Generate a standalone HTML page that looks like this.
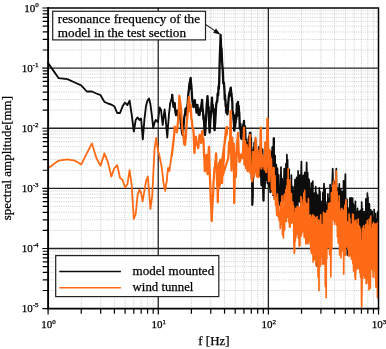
<!DOCTYPE html>
<html><head><meta charset="utf-8"><title>spectrum</title>
<style>html,body{margin:0;padding:0;background:#fff;overflow:hidden}body{width:386px;height:349px;font-family:"Liberation Serif",serif}</style></head>
<body>
<svg width="386" height="349" viewBox="0 0 386 349" style="display:block;will-change:transform;font-family:'Liberation Serif',serif" shape-rendering="geometricPrecision">
<filter id="soft" x="0" y="0" width="386" height="349" filterUnits="userSpaceOnUse"><feGaussianBlur stdDeviation="0.4"/></filter>
<g filter="url(#soft)">
<rect width="386" height="349" fill="#fff"/>
<path d="M81.25 8.00V308.60M100.65 8.00V308.60M114.41 8.00V308.60M125.08 8.00V308.60M133.80 8.00V308.60M141.17 8.00V308.60M147.56 8.00V308.60M153.19 8.00V308.60M191.39 8.00V308.60M210.78 8.00V308.60M224.54 8.00V308.60M235.21 8.00V308.60M243.93 8.00V308.60M251.31 8.00V308.60M257.69 8.00V308.60M263.33 8.00V308.60M301.52 8.00V308.60M320.91 8.00V308.60M334.67 8.00V308.60M345.35 8.00V308.60M354.07 8.00V308.60M361.44 8.00V308.60M367.83 8.00V308.60M373.46 8.00V308.60M48.10 290.50H378.50M48.10 279.92H378.50M48.10 272.40H378.50M48.10 266.58H378.50M48.10 261.82H378.50M48.10 257.79H378.50M48.10 254.31H378.50M48.10 251.23H378.50M48.10 230.38H378.50M48.10 219.80H378.50M48.10 212.28H378.50M48.10 206.46H378.50M48.10 201.70H378.50M48.10 197.67H378.50M48.10 194.19H378.50M48.10 191.11H378.50M48.10 170.26H378.50M48.10 159.68H378.50M48.10 152.16H378.50M48.10 146.34H378.50M48.10 141.58H378.50M48.10 137.55H378.50M48.10 134.07H378.50M48.10 130.99H378.50M48.10 110.14H378.50M48.10 99.56H378.50M48.10 92.04H378.50M48.10 86.22H378.50M48.10 81.46H378.50M48.10 77.43H378.50M48.10 73.95H378.50M48.10 70.87H378.50M48.10 50.02H378.50M48.10 39.44H378.50M48.10 31.92H378.50M48.10 26.10H378.50M48.10 21.34H378.50M48.10 17.31H378.50M48.10 13.83H378.50M48.10 10.75H378.50" stroke="#bcbcbc" stroke-width="0.75" stroke-dasharray="1 1.2" fill="none"/>
<path d="M158.23 8.00V308.60M268.37 8.00V308.60M48.10 248.48H378.50M48.10 188.36H378.50M48.10 128.24H378.50M48.10 68.12H378.50" stroke="#222" stroke-width="1.3" fill="none"/>
<g clip-path="url(#cp)"><clipPath id="cp"><rect x="47.1" y="8.0" width="331.9" height="300.6"/></clipPath>
<polyline points="48.1,63.1 58.7,78.2 67.4,79.1 74.8,82.5 81.2,85.3 86.8,91.5 91.9,91.5 96.4,93.5 100.6,95.2 104.4,101.9 108.0,103.5 111.3,104.6 114.3,106.2 117.2,113.0 120.0,113.0 122.6,106.3 125.0,102.6 127.4,105.0 129.6,100.6 131.7,114.6 133.8,131.5 135.7,120.0 137.6,117.4 139.4,120.0 141.1,118.5 142.8,139.4 144.4,119.7 146.0,106.0 147.5,100.5 149.0,98.6 150.4,104.0 151.8,115.0 153.2,127.7 154.5,123.0 155.7,120.0 157.0,121.0 158.0,122.0 159.4,108.8 159.6,107.5 160.6,109.0 161.0,109.5 161.7,116.2 162.7,125.0 162.8,124.0 163.9,114.8 164.6,109.5 164.9,112.2 165.8,120.0 165.9,122.0 167.0,134.1 167.3,137.5 167.9,127.8 168.7,118.0 168.9,114.9 169.9,106.1 170.0,104.0 170.8,101.2 171.7,98.3 172.2,95.0" fill="none" stroke="#0a0a0a" stroke-width="1.85" stroke-linejoin="round" stroke-linecap="round"/>
<polyline points="172.2,95.0 172.6,99.6 173.5,106.6 173.5,107.0 174.3,103.9 174.7,103.0 175.2,110.3 176.0,115.0 176.0,114.6 176.8,111.9 177.5,111.0 177.6,110.3 178.4,116.5 178.7,118.0 179.2,116.3 180.0,112.7 180.0,113.0 180.7,121.5 181.0,125.0 181.5,128.1 182.2,133.0 182.7,135.0 182.9,134.4 183.6,125.5 184.0,121.0 184.3,117.0 185.0,114.1 185.5,109.0 185.7,108.4 186.3,113.0 186.7,115.0 187.0,109.7 187.7,103.2 188.0,99.0 188.3,94.5 188.9,89.4 189.5,83.0 189.6,88.6 190.2,80.1 190.7,78.0 190.8,80.8 191.4,86.5 192.0,96.2 192.0,97.0 192.6,102.0 193.1,104.5 193.5,107.0 193.7,106.6 194.3,103.3 194.7,101.0 194.8,100.2 195.4,106.4 195.9,106.4 196.1,109.0 196.5,112.7 197.0,105.1 197.5,105.0 197.5,107.1 198.1,108.8 198.6,114.8 199.0,115.0 199.1,112.9 199.6,114.8 200.1,109.5 200.6,110.9 200.7,107.0 201.1,106.9 201.6,103.3 202.0,101.0 202.1,99.8 202.5,108.2 203.0,111.7 203.5,119.4 203.5,115.0 203.9,119.7 204.4,128.5 204.8,134.4 205.0,135.0 205.3,130.8 205.7,122.9 206.2,115.3 206.4,111.0 206.6,106.4 207.1,100.9 207.5,96.1 207.5,97.0 207.9,102.2 208.3,108.5 208.7,107.0 208.7,111.3 209.2,124.0 209.5,131.0 209.6,132.5 210.0,126.8 210.4,119.8 210.8,116.4 211.0,111.0 211.2,114.5 211.6,103.1 212.0,97.6 212.0,99.0 212.3,107.6 212.7,104.7 213.1,109.6 213.5,111.8 213.5,109.0 213.9,112.2 214.2,127.3 214.6,130.2 214.8,127.0 215.0,124.8 215.3,121.0 215.7,113.3 216.1,105.4 216.2,105.0 216.4,103.0 216.8,101.9 217.1,101.8 217.5,97.7 217.5,95.0 217.8,93.1 218.2,95.3 218.5,86.5 218.8,88.9 219.0,85.0 219.2,82.2 219.5,68.7 219.8,57.4 220.2,47.1 220.5,39.1 220.6,35.0 220.8,39.9 221.1,47.9 221.5,48.2 221.8,55.3 222.1,62.4 222.4,65.9 222.5,68.0 222.7,68.8 223.0,76.0 223.3,83.3 223.6,83.6 223.8,83.0 223.9,82.7 224.2,86.4 224.5,91.0 224.8,99.8 225.0,95.0 225.1,97.9 225.4,99.6 225.7,106.2 226.0,104.8 226.3,112.8 226.4,108.9 226.6,107.4 226.9,108.3 227.2,112.0 227.4,114.3 227.7,110.8 227.7,112.4 228.0,108.2 228.3,102.4 228.6,99.3 228.8,96.2 229.0,95.9 229.1,93.9 229.4,95.9 229.6,92.0 229.9,94.0 230.2,90.7 230.4,88.3 230.7,88.4 230.8,87.6 231.0,90.6 231.2,94.5 231.5,93.3 231.7,96.6 232.0,98.2 232.0,100.0 232.3,101.7 232.5,109.4 232.8,114.2 233.0,112.5 233.2,115.0 233.3,115.9 233.5,119.4 233.8,121.7 234.0,124.3 234.2,130.7 234.4,129.0 234.5,126.4 234.7,127.0 235.0,121.8 235.2,126.7 235.5,115.8 235.6,115.0 235.7,122.9 235.9,114.8 236.2,119.4 236.4,113.4 236.6,111.4 236.8,106.0 236.9,103.7 237.1,116.3 237.3,110.1 237.5,108.4 237.8,103.7 238.0,101.8 238.0,103.5 238.2,108.3 238.4,109.0 238.7,105.8 238.9,109.5 239.1,115.6 239.2,112.0 239.3,113.9 239.6,121.7 239.8,128.8 240.0,125.0 240.2,126.9 240.3,125.0 240.4,124.0 240.6,127.5 240.8,136.3 241.1,138.0 241.3,133.0 241.4,136.7 241.5,136.4 241.7,139.1 241.9,134.8 242.1,132.6 242.3,134.6 242.5,127.9 242.7,128.0 242.7,127.8 242.9,129.0 243.1,125.5 243.3,133.8 243.5,126.0 243.7,122.7 243.9,122.5 244.0,121.0 244.1,133.7 244.3,125.3 244.5,133.5 244.7,129.1 244.9,126.3 245.1,139.1 245.2,130.0 245.3,133.5 245.5,140.4 245.7,145.7 245.9,139.3 246.1,145.5 246.3,150.3 246.3,142.0 246.5,143.8 246.6,143.7 246.8,161.0 247.0,157.6 247.2,148.7 247.3,152.0 247.4,154.1 247.6,163.0 247.8,146.8 247.9,157.0 248.1,147.7 248.3,148.2 248.5,151.9 248.7,138.3 248.8,140.0 248.9,151.9 249.0,138.5 249.2,136.6 249.4,139.2 249.6,139.1 249.7,136.8 249.9,132.8 250.1,146.8 250.3,138.8 250.4,132.8 250.4,134.4 250.6,140.1 250.8,140.9 251.0,138.1 251.1,162.6 251.3,146.7 251.5,154.7 251.6,150.0 251.6,154.1 251.8,179.3 252.0,177.0 252.2,182.8 252.3,195.0 252.3,204.8 252.5,199.4 252.7,196.7 252.8,175.0 253.0,174.4 253.1,178.9 253.2,155.0 253.3,158.0 253.5,156.3 253.6,162.0 253.8,160.2 254.0,148.2 254.1,154.1 254.3,150.0 254.4,146.0 254.4,142.9 254.6,151.5 254.8,146.7 254.9,142.3 255.1,153.4 255.2,153.3 255.4,143.4 255.6,154.1 255.6,140.5 255.7,143.6 255.9,143.4 256.3,156.9 257.1,173.3 257.8,160.9 258.6,171.3 259.3,146.9 260.0,175.7 260.7,160.3 261.5,185.3 262.3,149.4 263.5,200.5 263.9,169.6 264.7,187.3 265.5,150.7 266.2,179.8 267.0,149.5 267.7,183.3 268.4,152.6 269.1,186.0 269.8,168.7 270.5,192.1 271.2,152.5 271.9,189.8 272.5,147.3 273.2,195.1 273.8,138.3" fill="none" stroke="#0a0a0a" stroke-width="2.3" stroke-linejoin="round" stroke-linecap="round"/>
<polyline points="273.8,138.3 274.5,198.8 275.1,155.5 275.7,196.6 276.3,164.7 276.9,196.4 277.5,168.4 278.1,200.3 278.7,174.9 279.3,205.1 279.8,186.0 280.4,202.3 281.0,167.1 281.5,203.3 282.1,178.6 282.6,200.1 283.1,192.0 283.6,197.7 284.2,168.5 284.7,203.1 285.1,171.0 285.6,194.5 286.0,163.7 286.4,199.7 286.9,154.7 287.2,194.3 287.6,159.9 288.0,204.6 288.4,180.0 288.8,206.4 289.2,169.4 289.6,212.4 289.9,190.4 290.3,210.3 290.7,184.1 291.1,214.0 291.4,175.0 291.8,217.5 292.2,191.2 292.5,211.5 292.9,186.7 293.3,215.6 293.6,190.9 294.0,218.6 294.3,200.2 294.7,214.0 295.0,179.6 295.4,208.4 295.8,201.5 296.2,208.2 296.6,177.4 297.0,204.4 297.4,187.9 297.8,207.5 298.1,170.9 298.5,201.6 298.9,182.6 299.3,200.9 299.7,175.0 300.0,201.9 300.4,184.2 300.8,204.3 301.1,174.1 301.4,161.6 301.8,190.6 302.2,203.3 302.6,184.5 302.9,203.8 303.3,175.4 303.6,206.7 303.9,177.9 304.3,203.5 304.7,172.3 305.1,206.6 305.5,186.5 305.9,202.7 306.2,184.1 306.6,162.4 307.0,175.9 307.4,207.5 307.7,172.5 308.1,212.4 308.5,178.7 308.8,214.8 309.2,179.8 309.5,213.7 309.9,188.9 310.2,212.4 310.6,190.4 310.9,221.0 311.3,183.1 311.6,218.0 312.0,204.1 312.4,216.0 312.8,181.2 313.2,222.2 313.5,199.8 313.9,223.8 314.3,193.1 314.6,224.5 315.0,206.8 315.4,220.9 315.7,186.6 316.1,227.6 316.4,193.1 316.8,225.6 317.0,266.0 317.5,224.6 317.8,195.2 318.2,225.5 318.5,196.2 318.9,229.0 319.3,187.8 319.7,222.2 320.0,191.7 320.4,227.4 320.8,201.5 321.1,227.7 321.5,201.6 321.8,226.7 322.2,201.4 322.5,224.9 322.9,192.3 323.2,226.5 323.6,195.9 324.0,183.6 324.3,202.7 324.7,221.1 325.1,188.9 325.4,228.0 325.8,201.9 326.1,224.2 326.5,210.0 326.8,225.1 327.2,204.6 327.5,223.6 327.9,193.9 328.2,229.3 328.6,200.0 329.0,226.1 329.3,198.3 329.7,219.9 330.1,184.7 330.4,221.3 330.8,193.3 331.1,221.1 331.5,187.7 331.8,215.1 332.2,182.7 332.7,168.5 332.9,175.0 333.2,208.9 333.6,181.8 334.0,209.5 334.3,184.8 334.7,206.9 335.0,181.2 335.4,208.1 335.8,184.3 336.1,210.5 336.3,168.5 336.8,208.6 337.1,199.0 337.5,220.5 337.9,188.0 338.2,218.7 338.6,188.9 338.9,220.3 339.3,183.9 339.6,223.1 340.0,198.0 340.3,224.8 340.7,189.0 341.0,224.8 341.4,196.1 341.7,222.6 342.1,191.7 342.5,224.1 342.8,206.9 343.2,222.1 343.5,180.9 343.9,218.8 344.2,200.7 344.5,215.5 344.9,188.3 345.4,174.0 345.6,198.2 346.0,222.0 346.3,199.6 346.7,221.9 347.0,199.4 347.3,255.0 347.7,207.5 348.1,226.1 348.4,214.3 348.8,230.4 349.1,209.2 349.5,226.1 349.8,198.0 350.2,228.4 350.5,210.7 350.9,228.7 351.2,197.8 351.6,230.6 351.9,199.1 352.3,229.2 352.6,198.0 353.0,231.8 353.3,203.8 353.7,236.7 354.0,209.0 354.4,237.9 354.7,205.3 355.1,236.1 355.4,201.4 355.8,233.8 356.1,211.6 356.5,241.4 356.8,219.3 357.2,240.5 357.5,208.3 357.9,235.5 358.2,211.3 358.6,238.1 358.9,211.6 359.3,237.1 359.6,219.7 360.0,243.5 360.3,210.4 360.7,236.7 361.0,213.4 361.4,241.8 361.7,202.0 362.1,241.1 362.4,208.6 362.8,244.5 363.1,215.4 363.5,239.5 363.8,211.8 364.2,239.6 364.5,211.7 364.9,236.8 365.2,217.2 365.6,235.7 365.9,198.9 366.2,233.5 366.6,201.1 367.0,232.2 367.4,193.2 367.6,232.5 368.0,197.2 368.3,240.0 368.7,211.1 369.0,236.4 369.4,203.8 369.7,238.1 370.1,216.0 370.4,239.2 370.8,209.8 371.1,239.9 371.5,219.5 371.8,239.2 372.2,211.3 372.5,242.8 372.9,217.0 373.2,244.1 373.5,222.2 373.9,242.7 374.2,209.7 374.6,244.1 374.9,219.6 375.3,245.7 375.6,213.5 376.0,245.1 376.3,218.9 376.7,252.0 377.0,220.1 377.4,250.6 377.7,211.9 378.0,250.8 378.3,224.6" fill="none" stroke="#0a0a0a" stroke-width="1.7" stroke-linejoin="round" stroke-linecap="round"/>
<polyline points="48.1,168.3 58.7,160.6 67.4,159.3 74.8,160.6 81.2,164.5 86.8,153.3 91.9,143.5 96.4,158.0 100.6,165.8 104.4,153.3 108.0,162.4 111.3,176.6 114.3,168.3 117.2,165.0 120.0,177.9 122.6,180.0 125.0,187.5 127.4,184.4 129.6,170.2 131.7,185.7 133.8,219.0 135.7,214.0 137.6,195.0 139.4,189.6 141.1,193.0 142.6,201.3 144.4,190.9 146.2,180.5 147.8,176.5 149.0,190.0 150.4,209.0 152.2,196.0 153.5,170.0 154.5,150.0 156.1,138.0 158.2,151.5 159.4,155.3 160.2,159.7 160.6,161.7 161.3,165.0 161.7,167.5 162.3,172.0 162.8,176.4 163.3,181.8 163.9,185.4 164.9,189.6 165.2,190.9 165.9,185.3 167.0,180.2 167.0,178.0 167.9,168.9 168.1,168.0 168.9,168.4 169.5,171.0 169.9,167.0 170.8,161.0 171.6,155.6" fill="none" stroke="#ff6a14" stroke-width="1.8" stroke-linejoin="round" stroke-linecap="round"/>
<polyline points="171.6,155.6 171.7,155.6 172.6,149.1 173.0,145.0 173.5,141.3 174.3,132.9 174.7,126.6 175.2,129.6 176.0,130.0 176.8,130.7 176.8,132.3 177.6,125.4 178.4,117.9 178.5,118.0 179.2,100.0 179.3,96.0 180.0,100.9 180.7,106.0 181.1,109.0 181.5,117.5 182.2,127.4 182.4,129.6 182.9,132.0 183.6,136.8 184.3,144.4 185.0,144.7 185.0,145.0 185.7,137.4 186.3,128.7 186.8,121.8 187.0,120.2 187.7,112.8 188.3,103.6 188.9,97.2 188.9,96.9 189.6,104.3 190.2,110.5 190.2,111.5 190.7,105.0 190.8,108.4 191.4,118.6 192.0,121.0 192.0,123.0 192.6,128.1 193.1,128.4 193.6,133.0 193.7,134.3 194.3,149.7 194.4,153.0 194.8,147.5 195.4,138.6 195.6,137.0 195.9,136.7 196.5,144.8 197.0,143.0 197.0,142.4 197.5,142.9 198.1,148.2 198.4,147.0 198.6,143.5 199.1,138.2 199.6,135.0 199.6,136.6 200.1,138.6 200.6,137.5 201.0,141.0 201.1,143.0 201.6,138.2 202.1,131.6 202.4,131.0 202.5,137.9 203.0,138.1 203.5,139.9 203.6,143.0 203.9,151.3 204.4,159.4 204.8,171.2 205.0,171.0 205.3,166.0 205.7,166.6 206.2,161.6 206.5,155.0 206.6,159.2 207.1,165.4 207.5,174.2 207.7,173.0 207.9,171.4 208.3,161.1 208.7,150.3 209.0,147.0 209.2,156.0 209.6,168.7 210.0,179.4 210.0,179.0 210.4,189.1 210.8,200.9 211.2,206.2 211.6,219.1 211.7,221.0 212.0,212.9 212.3,206.7 212.7,200.4 212.8,195.0 213.1,196.6 213.5,182.0 213.9,178.9 214.0,175.0 214.2,172.6 214.6,167.3 215.0,168.5 215.3,162.4 215.7,159.2 216.1,153.5 216.1,155.0 216.4,162.2 216.8,170.7 217.1,183.1 217.5,187.4 217.7,191.5 217.8,202.3 218.2,180.9 218.5,174.5 218.8,168.4 219.0,165.0 219.2,162.6 219.5,169.5 219.8,165.4 220.2,160.0 220.5,161.6 220.5,161.0 220.8,168.5 221.1,165.0 221.5,170.6 221.8,172.1 222.0,175.0 222.1,183.1 222.4,172.0 222.7,165.1 223.0,160.8 223.3,166.6 223.6,153.7 223.9,160.9 224.0,151.0 224.2,146.5 224.5,144.7 224.8,141.4 225.1,137.0 225.4,135.2 225.7,133.0 225.7,135.9 226.0,129.6 226.3,128.2 226.6,134.5 226.9,133.7 227.0,127.0 217.6,191.5 228.3,158.0 229.1,142.1 229.9,152.7 230.6,111.0 231.5,170.5 232.3,137.7 233.0,164.2 233.8,143.6 234.2,203.0 235.2,153.3 235.9,176.9 236.7,149.1 238.0,133.0 238.6,151.0 239.4,161.9 240.3,160.4 241.2,154.3 242.0,154.3 242.8,157.9 244.0,127.6 244.4,164.5 245.2,141.2 246.0,168.3 246.7,145.0 247.5,171.0 248.2,148.6 248.9,171.0 249.9,135.0 250.4,173.2 251.3,166.4 252.2,181.4 253.0,152.0 253.8,176.4 254.6,171.6 255.5,138.0 256.2,151.0 256.9,176.4 257.7,150.2 258.4,177.2 259.2,154.6 259.9,165.6 260.8,127.6 261.4,168.5 262.2,154.8 263.0,165.5 263.8,158.9 264.6,169.3 265.3,142.4 266.1,172.1 266.8,148.5 267.5,118.6 268.3,152.7 269.0,181.2 269.7,150.1 270.4,165.0 271.1,158.7 271.8,189.7 272.4,171.3 273.1,194.0 273.7,167.9" fill="none" stroke="#ff6a14" stroke-width="2.3" stroke-linejoin="round" stroke-linecap="round"/>
<polyline points="273.7,167.9 274.4,199.5 275.0,175.6 275.6,205.3 276.2,203.8 276.8,215.4 277.4,194.2 278.0,216.6 278.6,205.4 279.2,220.6 279.8,211.8 280.3,228.6 280.9,202.7 281.4,224.5 282.0,195.8 282.5,234.7 283.0,210.7 283.4,238.0 284.1,195.1 284.6,230.0 285.1,193.7 285.5,206.7 285.9,189.6 286.3,221.6 286.7,185.7 287.1,217.4 287.5,179.3 287.9,212.0 288.2,168.5 288.7,221.9 289.1,187.5 289.5,227.0 289.9,180.2 290.2,226.9 290.6,193.4 291.0,221.4 291.4,193.7 291.7,223.1 292.1,202.2 292.5,222.0 292.8,202.2 293.2,221.1 293.5,205.9 293.9,242.9 294.3,253.5 294.6,250.4 294.9,212.5 295.3,241.2 295.6,208.3 296.0,237.3 296.4,212.2 296.8,230.3 297.2,206.4 297.6,233.9 298.0,224.6 298.4,238.2 298.8,207.0 299.2,246.1 299.5,211.5 299.9,245.4 300.3,207.0 300.6,230.4 301.0,196.6 301.4,235.7 301.7,199.4 302.1,232.8 302.4,209.0 302.8,231.3 303.1,204.3 303.5,225.4 303.8,193.2 304.2,237.4 304.7,190.4 305.0,235.7 305.4,201.9 305.8,243.8 306.1,203.4 306.5,241.2 306.9,203.8 307.3,243.2 307.6,207.9 308.0,243.8 308.4,198.5 308.7,238.1 309.1,219.0 309.4,240.7 309.8,216.9 310.1,244.1 310.5,215.0 310.8,250.4 311.2,217.2 311.5,253.4 311.9,220.4 312.3,252.8 312.7,214.9 313.1,262.0 313.4,215.3 313.8,259.9 314.2,216.4 314.5,259.5 314.9,233.8 315.3,244.2 315.6,217.8 316.0,265.3 316.3,228.3 316.7,259.8 317.0,216.5 317.4,258.9 317.7,224.6 318.1,276.9 318.5,220.1 319.0,290.5 319.2,222.1 319.6,266.9 319.9,220.4 320.3,265.9 320.7,214.8 321.0,248.0 321.4,224.3 321.7,256.8 322.1,225.5 322.4,264.2 322.8,224.4 323.1,263.3 323.5,212.4 323.9,264.0 324.2,217.8 324.6,251.5 325.0,213.5 325.3,286.3 325.7,217.0 326.2,297.4 326.4,213.0 326.8,258.5 327.1,210.6 327.5,245.8 327.8,212.9 328.2,247.1 328.5,203.5 328.9,246.6 329.3,205.6 329.6,254.6 330.0,202.8 330.4,226.3 330.8,276.8 331.1,248.5 331.4,192.6 331.8,248.8 332.1,198.6 332.5,219.6 332.8,185.4 333.2,219.5 333.5,181.4 333.9,220.6 334.3,186.3 334.6,224.5 335.0,184.8 335.3,221.9 335.7,177.3 336.0,220.9 336.3,171.2 336.7,225.1 337.1,191.6 337.4,236.7 337.8,202.3 338.2,242.9 338.5,205.0 338.9,230.8 339.2,195.9 339.6,255.0 339.9,211.7 340.3,255.0 340.6,211.5 341.0,257.8 341.3,209.2 341.7,251.6 342.0,208.3 342.4,244.5 342.8,213.7 343.1,250.2 343.5,210.4 343.7,274.0 344.1,213.7 344.5,250.7 344.8,205.4 345.2,255.2 345.6,207.0 346.0,199.7 346.3,212.7 346.6,246.6 347.0,222.5 347.3,246.0 347.7,222.2 348.0,249.2 348.4,228.7 348.7,256.1 349.1,214.1 349.4,254.9 349.8,218.5 350.1,255.8 350.5,224.5 350.8,255.4 351.2,224.3 351.5,259.3 351.9,230.7 352.2,248.9 352.6,214.0 352.9,263.7 353.3,214.7 353.6,270.9 354.0,224.5 354.3,256.8 354.7,221.0 355.0,275.7 355.5,279.5 355.7,268.4 356.1,220.2 356.4,268.7 356.8,225.2 357.1,262.9 357.5,224.0 357.8,268.9 358.2,219.0 358.5,267.4 358.9,226.2 359.2,266.8 359.6,226.4 359.9,272.8 360.3,229.1 360.6,277.3 361.0,240.9 361.3,270.9 361.6,307.0 362.0,289.2 362.4,228.5 362.7,278.4 363.1,227.0 363.4,264.6 363.8,225.6 364.1,275.2 364.5,228.7 364.8,277.9 365.2,228.8 365.5,274.5 365.9,224.3 366.2,283.5 366.6,228.3 366.9,273.9 367.3,220.5 367.6,280.0 367.9,229.6 368.3,283.5 368.6,225.6 369.0,289.7 369.3,219.1 369.7,288.3 370.0,226.1 370.4,288.0 370.7,216.0 371.1,263.1 371.4,231.8 371.8,269.5 372.1,228.2 372.4,268.5 372.8,224.0 373.1,277.1 373.5,222.7 373.8,266.4 374.2,225.9 374.5,270.9 374.9,224.2 375.2,278.0 375.6,224.0 375.9,287.0 376.3,224.9 376.6,282.6 377.0,223.4 377.3,272.5 377.5,297.4 378.0,286.5 378.3,221.9" fill="none" stroke="#ff6a14" stroke-width="1.7" stroke-linejoin="round" stroke-linecap="round"/>
</g>
<path d="M48.10 8.00H378.50V308.60" stroke="#000" stroke-width="1.5" fill="none"/>
<path d="M48.10 8.00V308.60H378.50" stroke="#000" stroke-width="1.9" fill="none" stroke-linecap="square"/>
<path d="M48.10 308.60v5.8M81.25 308.60v5.2M100.65 308.60v5.2M114.41 308.60v5.2M125.08 308.60v5.2M133.80 308.60v5.2M141.17 308.60v5.2M147.56 308.60v5.2M153.19 308.60v5.2M158.23 308.60v5.8M191.39 308.60v5.2M210.78 308.60v5.2M224.54 308.60v5.2M235.21 308.60v5.2M243.93 308.60v5.2M251.31 308.60v5.2M257.69 308.60v5.2M263.33 308.60v5.2M268.37 308.60v5.8M301.52 308.60v5.2M320.91 308.60v5.2M334.67 308.60v5.2M345.35 308.60v5.2M354.07 308.60v5.2M361.44 308.60v5.2M367.83 308.60v5.2M373.46 308.60v5.2M378.50 308.60v5.8M48.10 308.60h-5.8M48.10 290.50h-5.4M48.10 279.92h-5.4M48.10 272.40h-5.4M48.10 266.58h-5.4M48.10 261.82h-5.4M48.10 257.79h-5.4M48.10 254.31h-5.4M48.10 251.23h-5.4M48.10 248.48h-5.8M48.10 230.38h-5.4M48.10 219.80h-5.4M48.10 212.28h-5.4M48.10 206.46h-5.4M48.10 201.70h-5.4M48.10 197.67h-5.4M48.10 194.19h-5.4M48.10 191.11h-5.4M48.10 188.36h-5.8M48.10 170.26h-5.4M48.10 159.68h-5.4M48.10 152.16h-5.4M48.10 146.34h-5.4M48.10 141.58h-5.4M48.10 137.55h-5.4M48.10 134.07h-5.4M48.10 130.99h-5.4M48.10 128.24h-5.8M48.10 110.14h-5.4M48.10 99.56h-5.4M48.10 92.04h-5.4M48.10 86.22h-5.4M48.10 81.46h-5.4M48.10 77.43h-5.4M48.10 73.95h-5.4M48.10 70.87h-5.4M48.10 68.12h-5.8M48.10 50.02h-5.4M48.10 39.44h-5.4M48.10 31.92h-5.4M48.10 26.10h-5.4M48.10 21.34h-5.4M48.10 17.31h-5.4M48.10 13.83h-5.4M48.10 10.75h-5.4M48.10 8.00h-5.8" stroke="#000" stroke-width="1.2" fill="none"/>
<g fill="#000" stroke="#000" stroke-width="0.25">
<text x="41.3" y="328.4" font-size="11"><tspan>10</tspan><tspan dy="-4.8" font-size="7">0</tspan></text>
<text x="151.4" y="328.4" font-size="11"><tspan>10</tspan><tspan dy="-4.8" font-size="7">1</tspan></text>
<text x="261.6" y="328.4" font-size="11"><tspan>10</tspan><tspan dy="-4.8" font-size="7">2</tspan></text>
<text x="371.7" y="328.4" font-size="11"><tspan>10</tspan><tspan dy="-4.8" font-size="7">3</tspan></text>
<text x="21.7" y="312.1" font-size="11"><tspan>10</tspan><tspan dy="-4.8" font-size="7">-5</tspan></text>
<text x="21.7" y="252.0" font-size="11"><tspan>10</tspan><tspan dy="-4.8" font-size="7">-4</tspan></text>
<text x="21.7" y="191.9" font-size="11"><tspan>10</tspan><tspan dy="-4.8" font-size="7">-3</tspan></text>
<text x="21.7" y="131.7" font-size="11"><tspan>10</tspan><tspan dy="-4.8" font-size="7">-2</tspan></text>
<text x="21.7" y="71.6" font-size="11"><tspan>10</tspan><tspan dy="-4.8" font-size="7">-1</tspan></text>
<text x="24.2" y="11.5" font-size="11"><tspan>10</tspan><tspan dy="-4.8" font-size="7">0</tspan></text>
<text x="198.3" y="345" font-size="13" textLength="31.2" lengthAdjust="spacingAndGlyphs">f [Hz]</text>
<text transform="translate(11,220.2) rotate(-90)" font-size="13" textLength="124.2" lengthAdjust="spacingAndGlyphs">spectral amplitude[mm]</text>
</g>
<rect x="52.7" y="11.3" width="152.8" height="28.6" fill="#fff" stroke="#222" stroke-width="1.2"/>
<text x="57.8" y="22.7" font-size="13.2" textLength="142.2" lengthAdjust="spacingAndGlyphs" stroke="#000" stroke-width="0.25">resonance frequency of the</text>
<text x="57.8" y="36.5" font-size="13.2" textLength="128.2" lengthAdjust="spacingAndGlyphs" stroke="#000" stroke-width="0.25">model in the test section</text>
<path d="M205.5 24.4L216.5 31.9" stroke="#111" stroke-width="1.1" fill="none"/>
<path d="M220.6 34.8L213.2 32.7L216 28.6Z" fill="#111"/>
<rect x="55.7" y="255.6" width="163.1" height="41" fill="#fff" stroke="#222" stroke-width="1.2"/>
<path d="M59.3 271.5H120.9" stroke="#0a0a0a" stroke-width="1.4"/>
<path d="M59.3 287.8H120.9" stroke="#ff6a14" stroke-width="1.4"/>
<text x="132.6" y="274.9" font-size="13" textLength="81.6" lengthAdjust="spacingAndGlyphs" stroke="#000" stroke-width="0.25">model mounted</text>
<text x="132.6" y="291.2" font-size="13" textLength="60.8" lengthAdjust="spacingAndGlyphs" stroke="#000" stroke-width="0.25">wind tunnel</text>
</g>
</svg>
</body></html>
